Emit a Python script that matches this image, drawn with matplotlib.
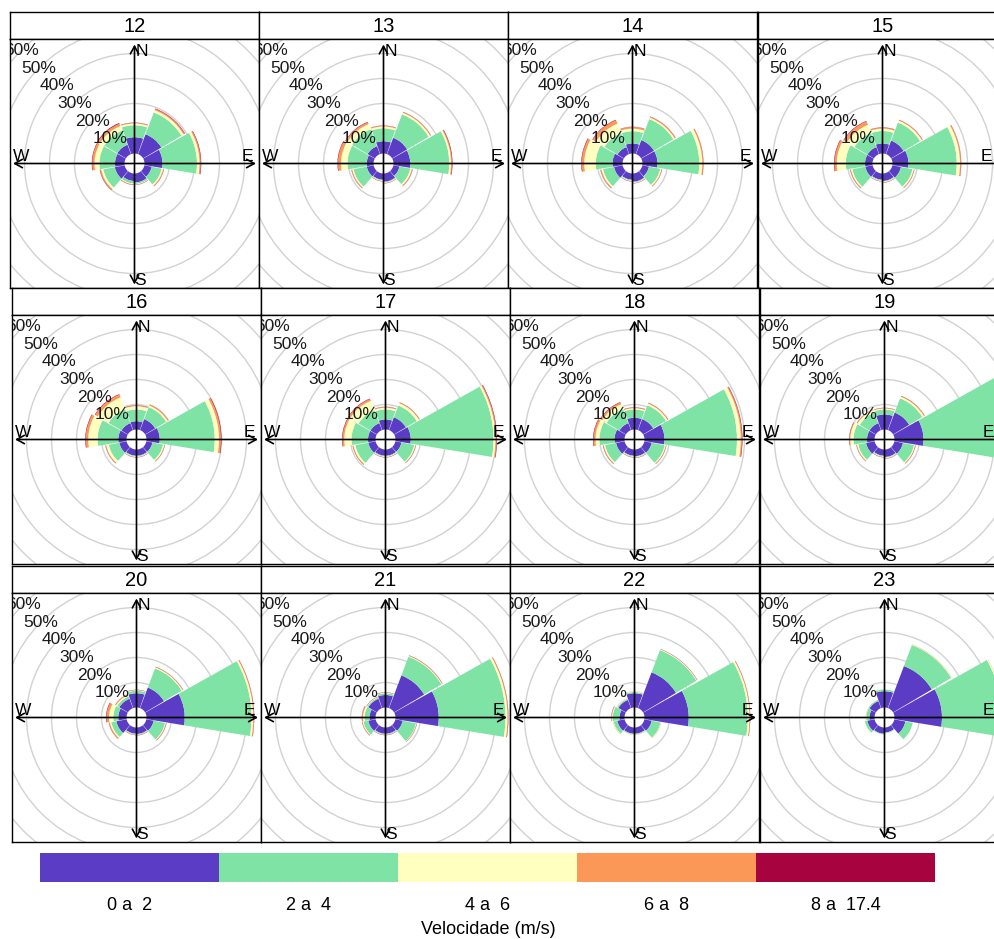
import numpy as np
import matplotlib.pyplot as plt
from matplotlib.patches import Wedge, Circle, Rectangle

plt.rcParams['font.family'] = ['Liberation Sans', 'DejaVu Sans']

hours = [12, 13, 14, 15, 16, 17, 18, 19, 20, 21, 22, 23]
directions = [0, 40, 80, 120, 160, 200, 240, 280, 320]
speedLabels = ["0 a  2", "2 a  4", "4 a  6", "6 a  8", "8 a  17.4"]
speedColors = ["#5b3dc5", "#80e3a6", "#ffffc0", "#fc9857", "#a6033f"]
ringLabels = ["10%", "20%", "30%", "40%", "50%", "60%"]

### frequency (%) per hour (rows) and direction (columns) for every speed class
freq0to2 = [
    [6.5, 8.5, 7.2, 3.0, 3.6, 3.0, 4.0, 3.8, 4.0],
    [4.9, 7.0, 6.7, 2.5, 3.3, 2.5, 2.8, 2.7, 3.4],
    [4.0, 6.0, 6.0, 2.7, 3.3, 2.5, 3.5, 4.0, 3.0],
    [4.0, 5.8, 6.4, 3.5, 3.0, 2.5, 3.0, 3.0, 3.0],
    [3.3, 4.7, 5.3, 2.5, 2.5, 2.5, 3.0, 3.3, 3.0],
    [4.0, 5.5, 6.1, 2.5, 2.5, 2.5, 3.0, 3.0, 3.0],
    [4.7, 4.7, 8.0, 3.0, 2.7, 2.5, 3.5, 4.0, 3.0],
    [6.0, 7.5, 11.6, 3.5, 3.0, 2.5, 3.5, 3.0, 3.0],
    [5.7, 8.8, 15.3, 3.0, 2.6, 2.5, 4.2, 3.3, 4.0],
    [5.0, 14.0, 17.3, 3.0, 2.5, 2.5, 3.0, 2.4, 4.0],
    [5.7, 15.3, 17.7, 3.0, 2.5, 2.5, 3.0, 2.0, 3.5],
    [6.5, 18.0, 19.0, 4.5, 2.0, 2.5, 3.0, 2.0, 3.0],
]
freq2to4 = [
    [4.8, 9.3, 13.8, 4.0, 0.6, 1.0, 4.7, 6.2, 6.0],
    [5.1, 10.0, 15.6, 4.4, 0.3, 0.3, 5.4, 7.7, 7.2],
    [4.9, 9.0, 16.7, 4.6, 0.3, 0.3, 4.5, 6.7, 6.0],
    [5.0, 7.7, 19.3, 4.7, 0.3, 0.3, 5.3, 7.7, 6.0],
    [4.7, 5.1, 22.0, 4.3, 0.3, 0.3, 4.3, 8.3, 6.0],
    [4.0, 5.0, 33.1, 5.2, 0.3, 0.3, 5.3, 6.6, 5.5],
    [3.3, 5.9, 29.0, 5.3, 0.3, 0.3, 4.5, 6.0, 6.0],
    [2.0, 6.1, 35.4, 4.5, 0.3, 0.3, 3.2, 5.4, 4.5],
    [1.0, 8.2, 26.7, 4.6, 0.3, 0.3, 2.1, 2.0, 1.0],
    [0.7, 8.0, 26.7, 5.4, 0.3, 0.3, 2.0, 2.0, 0.5],
    [0.5, 9.5, 23.6, 3.6, 0.3, 0.3, 1.5, 2.7, 0.5],
    [0.7, 9.0, 24.0, 3.0, 0.3, 0.3, 1.0, 1.3, 0.5],
]
freq4to6 = [
    [0.7, 1.0, 1.0, 0.6, 0.2, 0.3, 0.8, 2.0, 2.0],
    [0.8, 0.7, 0.7, 0.6, 0.2, 0.2, 0.5, 2.6, 2.2],
    [1.1, 0.6, 1.2, 0.5, 0.2, 0.2, 0.6, 4.6, 4.0],
    [1.0, 0.8, 1.3, 0.5, 0.2, 0.2, 0.5, 3.6, 3.5],
    [1.3, 0.7, 1.7, 0.5, 0.2, 0.2, 1.0, 3.7, 5.0],
    [0.7, 1.0, 0.8, 0.4, 0.2, 0.2, 0.7, 2.9, 4.0],
    [0.5, 0.7, 1.5, 0.4, 0.2, 0.2, 0.5, 1.6, 2.0],
    [0.4, 0.7, 1.0, 0.4, 0.2, 0.2, 0.5, 1.3, 1.0],
    [0.2, 0.4, 0.7, 0.3, 0.1, 0.1, 0.5, 1.7, 0.5],
    [0.2, 0.3, 0.8, 0.2, 0.1, 0.1, 0.3, 0.6, 0.2],
    [0.2, 0.3, 0.7, 0.2, 0.1, 0.1, 0.2, 0.3, 0.2],
    [0.1, 0.2, 0.4, 0.1, 0.1, 0.1, 0.1, 0.1, 0.1],
]
freq6to8 = [
    [0.3, 0.5, 0.5, 0.3, 0.1, 0.2, 0.5, 0.9, 1.0],
    [0.3, 0.3, 0.4, 0.3, 0.1, 0.1, 0.3, 1.2, 0.8],
    [0.6, 0.4, 0.4, 0.2, 0.1, 0.1, 0.4, 1.0, 1.5],
    [0.4, 0.3, 0.4, 0.2, 0.1, 0.1, 0.3, 0.9, 1.5],
    [0.3, 0.4, 0.8, 0.2, 0.1, 0.1, 0.3, 1.0, 1.2],
    [0.3, 0.3, 0.4, 0.2, 0.1, 0.1, 0.3, 0.7, 0.8],
    [0.3, 0.3, 0.5, 0.2, 0.1, 0.1, 0.3, 0.8, 0.8],
    [0.2, 0.3, 0.3, 0.2, 0.1, 0.1, 0.2, 0.3, 0.3],
    [0.1, 0.2, 0.3, 0.2, 0.1, 0.1, 0.4, 1.0, 0.3],
    [0.1, 0.2, 0.3, 0.1, 0.1, 0.1, 0.2, 0.4, 0.1],
    [0.1, 0.1, 0.2, 0.1, 0.1, 0.1, 0.1, 0.2, 0.1],
    [0.0, 0.1, 0.1, 0.0, 0.0, 0.0, 0.0, 0.1, 0.0],
]
freq8up = [
    [0.1, 0.2, 0.2, 0.1, 0.1, 0.1, 0.1, 0.2, 0.3],
    [0.1, 0.1, 0.2, 0.1, 0.1, 0.1, 0.1, 0.2, 0.2],
    [0.1, 0.1, 0.1, 0.1, 0.1, 0.1, 0.1, 0.2, 0.2],
    [0.1, 0.1, 0.1, 0.1, 0.1, 0.1, 0.1, 0.2, 0.2],
    [0.1, 0.1, 0.2, 0.1, 0.1, 0.1, 0.1, 0.2, 0.2],
    [0.1, 0.1, 0.2, 0.1, 0.1, 0.1, 0.1, 0.2, 0.2],
    [0.1, 0.1, 0.2, 0.1, 0.1, 0.1, 0.1, 0.2, 0.2],
    [0.1, 0.1, 0.2, 0.1, 0.1, 0.1, 0.1, 0.1, 0.1],
    [0.1, 0.1, 0.1, 0.1, 0.1, 0.1, 0.1, 0.2, 0.1],
    [0.1, 0.1, 0.1, 0.1, 0.1, 0.1, 0.1, 0.1, 0.1],
    [0.0, 0.1, 0.1, 0.0, 0.0, 0.0, 0.0, 0.1, 0.0],
    [0.0, 0.0, 0.0, 0.0, 0.0, 0.0, 0.0, 0.0, 0.0],
]

W, H = 994, 939
fig = plt.figure(figsize=(W / 100, H / 100), dpi=100)
fig.patch.set_facecolor('white')


def pxAxes(x, y, w, h):
    # axes placed with pixel coordinates measured from the top-left corner
    return fig.add_axes([x / W, 1 - (y + h) / H, w / W, h / H])


offset = 4.0          # radius of the calm hole
panelW = 249
stripH = 27
lim = panelW / 2 / 2.5
colLeft = [10, 259, 508, 758]
rowShift = [0, 2, 2]
stripTop = [12, 288, 566]
sectorHalf = 20.0
gap = 0.7

bins = [freq0to2, freq2to4, freq4to6, freq6to8, freq8up]

for i, hour in enumerate(hours):
    row, col = divmod(i, 4)
    left = colLeft[col] + rowShift[row]
    top = stripTop[row]

    ### strip with the hour
    strip = pxAxes(left, top, panelW, stripH)
    strip.set_xticks([])
    strip.set_yticks([])
    for s in strip.spines.values():
        s.set_linewidth(1.0)
    strip.text(0.5, 0.45, str(hour), ha='center', va='center', fontsize=14.5,
               transform=strip.transAxes)

    ax = pxAxes(left, top + stripH, panelW, panelW)
    ax.set_xlim(-lim, lim)
    ax.set_ylim(-lim, lim)
    ax.set_xticks([])
    ax.set_yticks([])
    for s in ax.spines.values():
        s.set_linewidth(1.0)
        s.set_zorder(10)

    ### grey rings
    for k in range(1, 8):
        ax.add_patch(Circle((0, 0), offset + 10 * k, fill=False, ec='#d2d2d2', lw=1.0, zorder=1))

    ### stacked sectors
    for j, d in enumerate(directions):
        inner = offset
        for b, freq in enumerate(bins):
            val = freq[i][j]
            if val <= 0:
                continue
            outer = inner + val
            theta1 = 90 - (d + sectorHalf - gap)
            theta2 = 90 - (d - sectorHalf + gap)
            ax.add_patch(Wedge((0, 0), outer, theta1, theta2, width=outer - inner,
                               fc=speedColors[b], ec='none', zorder=2))
            inner = outer

    ### compass arrows
    arrow = dict(arrowstyle='<->,head_length=0.55,head_width=0.3', lw=1.2, color='black',
                 shrinkA=0, shrinkB=0)
    ax.annotate('', xy=(0, 47.6), xytext=(0, -48.4), arrowprops=arrow, zorder=4)
    ax.annotate('', xy=(48.6, 0), xytext=(-48.6, 0), arrowprops=arrow, zorder=4)
    ax.text(2.8, 44.6, "N", ha='center', va='center', fontsize=12.5, zorder=5)
    ax.text(2.2, -46.8, "S", ha='center', va='center', fontsize=12.5, zorder=5)
    ex = 45.0 if col < 3 else 41.5
    ax.text(ex, 2.8, "E", ha='center', va='center', fontsize=12.5, zorder=5)
    ax.text(-45.4, 2.8, "W", ha='center', va='center', fontsize=12.5, zorder=5)

    ### ring labels along the north-west diagonal
    for k, lab in enumerate(ringLabels):
        r = offset + 10 * (k + 1)
        ax.text(-r * np.sin(np.pi / 4), r * np.cos(np.pi / 4), lab, ha='center', va='center',
                fontsize=12.5, color='#1a1a1a', zorder=5, clip_on=True)

### speed legend
leg = pxAxes(40, 853, 895, 29)
leg.set_xlim(0, len(speedColors))
leg.set_ylim(0, 1)
leg.axis('off')
for b, c in enumerate(speedColors):
    leg.add_patch(Rectangle((b, 0), 1, 1, fc=c, ec='none'))
    fig.text((40 + 179 * (b + 0.5)) / W, 1 - 905 / H, speedLabels[b], ha='center', va='center',
             fontsize=13)
fig.text(488 / W, 1 - 929 / H, "Velocidade (m/s)", ha='center', va='center', fontsize=13)

fig.savefig("out.png", dpi=100)
